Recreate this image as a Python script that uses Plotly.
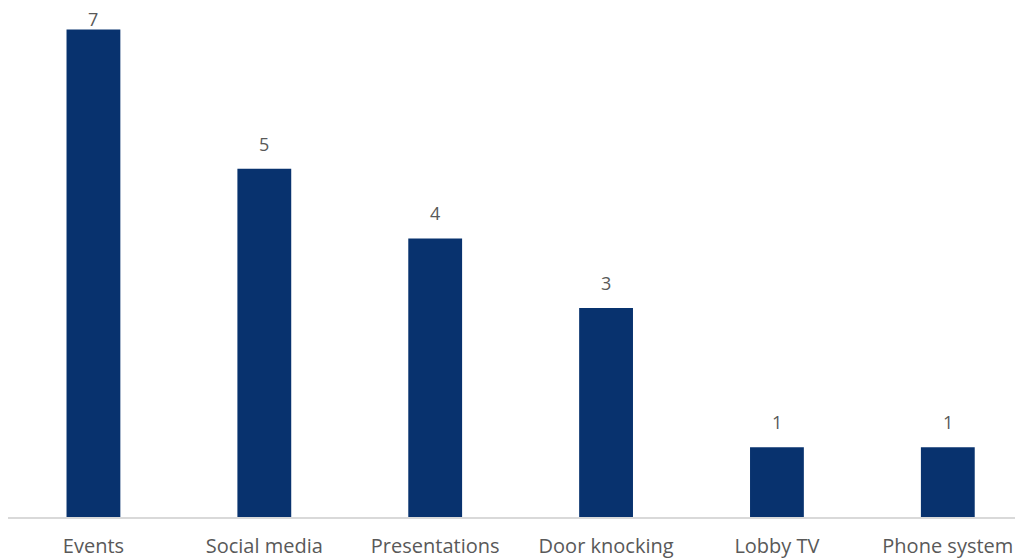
import plotly.graph_objects as go

categories = ["Events", "Social media", "Presentations", "Door knocking", "Lobby TV", "Phone system"]
values = [7, 5, 4, 3, 1, 1]

FIG_H = 550
MARGIN_B = 41
Y_MAX = 7.31
plot_h = FIG_H - MARGIN_B
px_per_unit = plot_h / Y_MAX

fig = go.Figure(go.Bar(
    x=categories, y=values,
    marker=dict(color="#08326E", line=dict(width=0)),
    width=0.315,
    cliponaxis=False,
    hoverinfo="x+y",
))

for c, v in zip(categories, values):
    top_px = (Y_MAX - v) * px_per_unit
    shift = min(25, top_px - 11)
    fig.add_annotation(
        x=c, y=v, text=str(v), showarrow=False,
        yanchor="middle", yshift=shift,
        font=dict(family="Open Sans", size=18, color="#595959"),
    )

fig.update_layout(
    width=1015, height=FIG_H,
    margin=dict(l=0, r=0, t=0, b=MARGIN_B),
    paper_bgcolor="white", plot_bgcolor="white",
    showlegend=False,
    xaxis=dict(range=[-0.5, 5.44], showline=True, linecolor="#D9D9D9", linewidth=1.5,
               ticks="", ticklabelstandoff=10,
               tickfont=dict(family="Open Sans", size=20, color="#595959")),
    yaxis=dict(range=[0, Y_MAX], visible=False, showgrid=False),
    font=dict(family="Open Sans"),
)

fig.write_html("out.html")
